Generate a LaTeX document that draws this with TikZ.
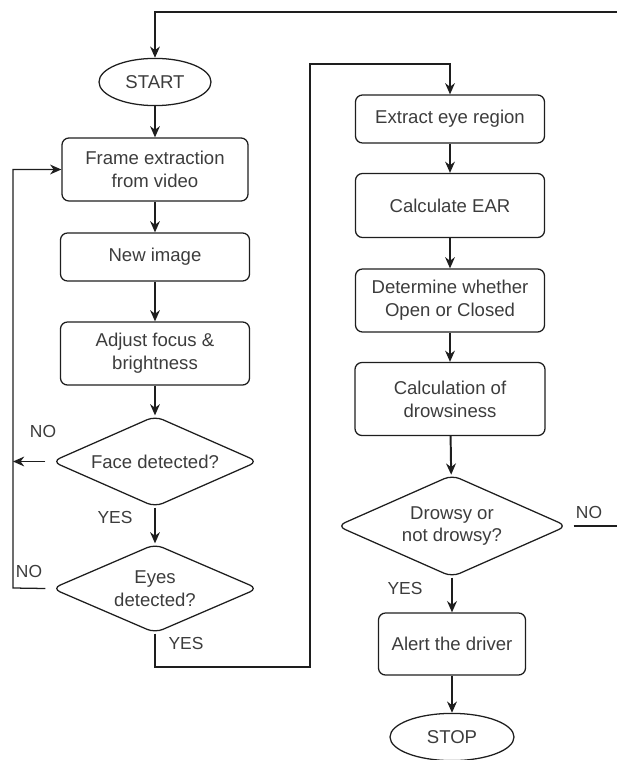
\documentclass[tikz,border=0pt]{standalone}
\usepackage{fontspec}
\setmainfont{Liberation Sans}
\usepackage{tikz}
\usepackage{xcolor}
\usetikzlibrary{arrows.meta,positioning,shapes.geometric}
\definecolor{txtgray}{HTML}{3C3C3C}
\definecolor{linegray}{HTML}{1E1E1E}

\begin{document}
\begin{tikzpicture}[x=0.025cm,y=-0.025cm,
    every node/.style={font=\fontsize{13.2}{16.3}\selectfont,text=txtgray},
    process/.style={rectangle,draw=linegray,line width=0.9pt,rounded corners=5pt,align=center,inner sep=0pt},
    terminal/.style={ellipse,draw=linegray,line width=0.9pt,inner sep=0pt,minimum width=2.8cm,minimum height=1.18cm},
    decision/.style={diamond,draw=linegray,line width=0.9pt,rounded corners=6pt,align=center,inner sep=0pt,aspect=2.2},
    answer/.style={font=\fontsize{12.4}{14}\selectfont},
    flow/.style={draw=linegray,line width=0.9pt,-{Stealth[length=8pt,width=7pt]}},
    heavyflow/.style={flow,line width=1.4pt}]
    \useasboundingbox (0,0) rectangle (616,760);

    % Nodes, left column
    \node[terminal] (start) at (155,82) {START};
    \node[process,minimum width=4.65cm,minimum height=1.575cm] (frame) at (155,169.5) {Frame extraction\\from video};
    \node[process,minimum width=4.725cm,minimum height=1.2cm] (newimg) at (155,257) {New image};
    \node[process,minimum width=4.725cm,minimum height=1.575cm] (adjust) at (155,353.5) {Adjust focus \&\\brightness};
    \node[decision,minimum width=5.15cm,minimum height=2.275cm] (face) at (155,461.5) {Face detected?};
    \node[decision,minimum width=5.15cm,minimum height=2.225cm] (eyes) at (155,588.5) {Eyes\\detected?};

    % Nodes, right column
    \node[process,minimum width=4.725cm,minimum height=1.2cm] (extract) at (450,119) {Extract eye region};
    \node[process,minimum width=4.725cm,minimum height=1.6cm] (ear) at (450,205.5) {Calculate EAR};
    \node[process,minimum width=4.725cm,minimum height=1.575cm] (determine) at (450,300.5) {Determine whether\\Open or Closed};
    \node[process,minimum width=4.75cm,minimum height=1.825cm] (drowsycalc) at (450,399) {Calculation of\\drowsiness};
    \node[decision,minimum width=5.75cm,minimum height=2.55cm] (drowsy) at (452,526) {Drowsy or\\not drowsy?};
    \node[process,minimum width=3.675cm,minimum height=1.55cm] (alert) at (452,644) {Alert the driver};
    \node[terminal,minimum width=3.1cm] (stop) at (452,737) {STOP};

    % Bends of the long connectors
    \coordinate (nobus) at (13,588);
    \coordinate (yesdown) at (155,667);
    \coordinate (yesup) at (310,64);
    \coordinate (topright) at (625,12);

    % Arrows
    \draw[flow] (start) -- (frame);
    \draw[flow] (frame) -- (newimg);
    \draw[flow] (newimg) -- (adjust);
    \draw[flow] (adjust) -- (face);
    \draw[flow] (face) -- (eyes);
    \draw[flow] ([xshift=-0.15cm]face.west) -- (face.west -| nobus);
    \draw[flow] ([xshift=-0.15cm]eyes.west) -- (nobus) |- (frame.west);
    \draw[flow] (eyes.south) -- (yesdown) -| (yesup) -| (extract.north);
    \draw[flow] (extract) -- (ear);
    \draw[flow] (ear) -- (determine);
    \draw[flow] (determine) -- (drowsycalc);
    \draw[heavyflow] (drowsycalc) -- (drowsy);
    \draw[heavyflow] (drowsy) -- (alert);
    \draw[heavyflow] (alert) -- (stop);
    \draw[flow] ([xshift=0.15cm]drowsy.east) -| (topright) -| (start.north);

    % Labels
    \node[answer] (faceno) at (43,431) {NO};
    \node[answer] (faceyes) at (115,517) {YES};
    \node[answer] (eyesno) at (29,571) {NO};
    \node[answer] (eyesyes) at (186,643) {YES};
    \node[answer] (drowsyno) at (589,512) {NO};
    \node[answer] (drowsyyes) at (405,588) {YES};
\end{tikzpicture}
\end{document}
